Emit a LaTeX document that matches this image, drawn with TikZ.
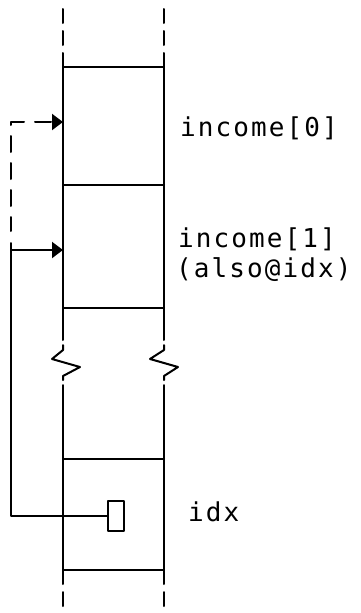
\documentclass[tikz,border=0pt]{standalone}
\usepackage{fontspec}
\newfontfamily\plotfont{DejaVu Sans Mono}[LetterSpace=8]
\usetikzlibrary{arrows.meta}
\begin{document}
\begin{tikzpicture}[x=1pt,y=-1pt,
  wire/.style={line width=2pt, line cap=round, line join=round},
  edgedash/.style={wire, dash pattern=on 14pt off 8pt},
  ptr/.style={wire, -{Triangle[length=11pt,width=16pt]}},
  lbl/.style={font=\plotfont\fontsize{26}{30}\selectfont, anchor=base west, inner sep=0pt}
]
\useasboundingbox (0,0) rectangle (360,613);

% edges of the memory column
\coordinate (tlA) at (63,67);   \coordinate (trA) at (164,67);
\coordinate (bl)  at (63,570);  \coordinate (br)  at (164,570);

% continuation above and below
\draw[edgedash] (tlA) -- (63,6);
\draw[edgedash] (trA) -- (164,8);
\draw[edgedash] (bl) -- (63,612);
\draw[edgedash] (br) -- (164,612);

% upper part of the column
\draw[wire] (63,340) -- (tlA) -- (trA) -- (164,340);
\draw[wire] (63,185) -- (164,185);
\draw[wire] (63,308) -- (164,308);

% break marks
\draw[wire] (63,345) -- (63,350) -- (52,359) -- (80,367) -- (63,376) -- (63,380);
\draw[wire] (164,345) -- (164,350) -- (150,359) -- (178,367) -- (164,376) -- (164,380);

% lower part of the column
\draw[wire] (63,385) -- (bl) -- (br) -- (164,385);
\draw[wire] (63,459) -- (164,459);

% pointer variable cell
\node[draw, wire, minimum width=16pt, minimum height=30pt, inner sep=0pt] (ptrbox) at (116,516) {};

% targets on the cells
\coordinate (cell0) at (63,122);
\coordinate (cell1) at (63,250);
\coordinate (turnA) at (11,122);
\coordinate (dstart) at (11,231);
\coordinate (turnB) at (11,243);
\coordinate (junc) at (11,250);

\draw[ptr, dash pattern=on 16pt off 11pt, dash phase=2pt] (dstart) -- (turnA) -- (cell0);
\draw[wire] (ptrbox.west) -| (turnB);
\draw[ptr] (junc) -- (cell1);

% labels
\node[lbl] (lab0) at (180,136) {income[0]};
\node[lbl] (lab1) at (178,247) {income[1]};
\node[lbl] (lab2) at (176,277) {(also@idx)};
\node[lbl] (lab3) at (188,521) {idx};
\end{tikzpicture}
\end{document}
